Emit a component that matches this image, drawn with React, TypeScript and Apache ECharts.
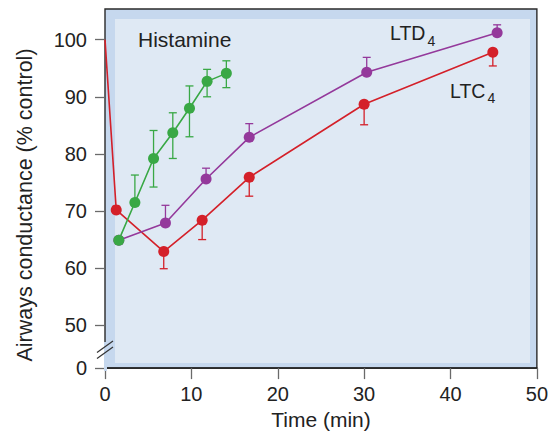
import React, { useEffect, useRef } from 'react';
import * as echarts from 'echarts';

// LTC4 (red): first point is the baseline at t=0 (no marker)
const ltc4X = [0, 1.3, 6.8, 11.25, 16.7, 30.0, 44.9];
const ltc4Y = [100, 70.2, 62.9, 68.4, 75.9, 88.7, 97.8];
const ltc4Low: (number | null)[] = [null, null, 59.9, 65.0, 72.6, 85.1, 95.4];
const ltc4High: (number | null)[] = [null, null, null, null, null, null, null];

// LTD4 (purple)
const ltd4X = [1.6, 7.0, 11.7, 16.7, 30.3, 45.4];
const ltd4Y = [64.9, 67.9, 75.6, 82.9, 94.3, 101.2];
const ltd4Low: (number | null)[] = [null, null, null, null, null, null];
const ltd4High: (number | null)[] = [null, 71.0, 77.5, 85.3, 96.9, 102.6];

// Histamine (green)
const histX = [1.6, 3.46, 5.62, 7.85, 9.78, 11.82, 14.05];
const histY = [64.9, 71.5, 79.2, 83.7, 88.0, 92.7, 94.1];
const histLow: (number | null)[] = [null, null, 74.2, 79.2, 83.0, 90.0, 91.6];
const histHigh: (number | null)[] = [null, 76.3, 84.1, 87.2, 91.9, 94.8, 96.3];

const xMin = 0;
const xMax = 50;
const xInterval = 10;
// broken axis: the "0" label sits at the bottom of the scale
const yTickValues = [42.5, 50, 60, 70, 80, 90, 100];
const yTickLabels = ['0', '50', '60', '70', '80', '90', '100'];
const yMin = 42.5;
const yMax = 105.37;

const RED = '#d42029';
const PURPLE = '#94399b';
const GREEN = '#39a845';
const FONT = '"Liberation Sans", Arial, Helvetica, sans-serif';

function lineSeries(name: string, xs: number[], ys: number[], color: string, hideFirst = false) {
  return {
    name,
    type: 'line',
    data: xs.map((x, i) =>
      hideFirst && i === 0 ? { value: [x, ys[i]], symbolSize: 0 } : [x, ys[i]]
    ),
    symbol: 'circle',
    symbolSize: 11,
    itemStyle: { color },
    lineStyle: { color, width: 1.6 },
    z: 3,
  };
}

function errSeries(xs: number[], ys: number[], lows: (number | null)[], highs: (number | null)[], color: string) {
  const data = xs.map((x, i) => [x, ys[i], lows[i] ?? ys[i], highs[i] ?? ys[i]]);
  return {
    type: 'custom',
    encode: { x: 0, y: [1, 2, 3] },
    data,
    z: 2,
    renderItem: (params: any, api: any) => {
      const x = api.value(0);
      const y = api.value(1);
      const lo = api.value(2);
      const hi = api.value(3);
      if (lo === y && hi === y) return null;
      const pLo = api.coord([x, lo]);
      const pHi = api.coord([x, hi]);
      const style = { stroke: color, lineWidth: 1.3 };
      const cap = 4;
      const children: any[] = [
        { type: 'line', shape: { x1: pLo[0], y1: pLo[1], x2: pHi[0], y2: pHi[1] }, style },
      ];
      if (lo !== y) children.push({ type: 'line', shape: { x1: pLo[0] - cap, y1: pLo[1], x2: pLo[0] + cap, y2: pLo[1] }, style });
      if (hi !== y) children.push({ type: 'line', shape: { x1: pHi[0] - cap, y1: pHi[1], x2: pHi[0] + cap, y2: pHi[1] }, style });
      return { type: 'group', children };
    },
  };
}

export default function App() {
  const ref = useRef<HTMLDivElement>(null);
  useEffect(() => {
    document.body.style.margin = '0';
    const chart = echarts.init(ref.current!, null, { renderer: 'svg' });
    chart.setOption({
      animation: false,
      textStyle: { fontFamily: FONT },
      grid: {
        left: 105,
        right: 12.5,
        top: 9,
        bottom: 63,
        show: true,
        backgroundColor: '#c6d8ee',
        borderColor: '#2a2a2a',
        borderWidth: 1.4,
      },
      xAxis: {
        type: 'value',
        min: xMin,
        max: xMax,
        interval: xInterval,
        axisLine: { show: true, lineStyle: { color: '#1a1a1a', width: 1.5 } },
        axisTick: { show: true, length: 11, lineStyle: { color: '#6a6a6a', width: 1.3 } },
        axisLabel: { margin: 16, fontSize: 20, color: '#222', fontFamily: FONT },
        splitLine: { show: false },
        name: 'Time (min)',
        nameLocation: 'middle',
        nameGap: 32,
        nameTextStyle: { fontSize: 21, color: '#222', fontFamily: FONT },
      },
      yAxis: {
        type: 'value',
        min: yMin,
        max: yMax,
        axisLine: { show: false },
        axisTick: { show: true, length: 10, customValues: yTickValues, lineStyle: { color: '#6a6a6a', width: 1.3 } },
        axisLabel: {
          customValues: yTickValues,
          margin: 18,
          fontSize: 20,
          color: '#222',
          fontFamily: FONT,
          formatter: (v: number) => {
            const i = yTickValues.indexOf(v);
            return i >= 0 ? yTickLabels[i] : '';
          },
        },
        splitLine: { show: false },
      },
      graphic: [
        { type: 'rect', shape: { x: 115, y: 19, width: 415, height: 344 }, style: { fill: '#dfe9f4' }, z: 1, silent: true },
        { type: 'rect', shape: { x: 104, y: 342, width: 3, height: 29 }, style: { fill: '#c6d8ee' }, z: 10, silent: true },
        { type: 'line', shape: { x1: 97, y1: 352.5, x2: 113, y2: 341 }, style: { stroke: '#333', lineWidth: 1.2 }, z: 11 },
        { type: 'line', shape: { x1: 97, y1: 358.5, x2: 113, y2: 347 }, style: { stroke: '#333', lineWidth: 1.2 }, z: 11 },
        {
          type: 'text', x: 25, y: 205, rotation: Math.PI / 2, z: 11,
          style: { text: 'Airways conductance (% control)', fontSize: 21.5, fill: '#222', fontFamily: FONT, align: 'center', verticalAlign: 'middle' },
        },
        { type: 'text', x: 138, y: 39.5, z: 11, style: { text: 'Histamine', fontSize: 21, fill: '#222', fontFamily: FONT, align: 'left', verticalAlign: 'middle' } },
        { type: 'text', x: 390, y: 33, z: 11, style: { text: 'LTD', fontSize: 19.5, fill: '#222', fontFamily: FONT, align: 'left', verticalAlign: 'middle' } },
        { type: 'text', x: 427.5, y: 41, z: 11, style: { text: '4', fontSize: 14, fill: '#222', fontFamily: FONT, align: 'left', verticalAlign: 'middle' } },
        { type: 'text', x: 450, y: 90.8, z: 11, style: { text: 'LTC', fontSize: 19.5, fill: '#222', fontFamily: FONT, align: 'left', verticalAlign: 'middle' } },
        { type: 'text', x: 487.5, y: 98, z: 11, style: { text: '4', fontSize: 14, fill: '#222', fontFamily: FONT, align: 'left', verticalAlign: 'middle' } },
      ],
      series: [
        errSeries(ltc4X, ltc4Y, ltc4Low, ltc4High, RED),
        errSeries(ltd4X, ltd4Y, ltd4Low, ltd4High, PURPLE),
        errSeries(histX, histY, histLow, histHigh, GREEN),
        lineSeries('LTC4', ltc4X, ltc4Y, RED, true),
        lineSeries('LTD4', ltd4X, ltd4Y, PURPLE),
        lineSeries('Histamine', histX, histY, GREEN),
      ],
    });
    return () => chart.dispose();
  }, []);
  return <div ref={ref} style={{ position: 'absolute', left: 0, top: 0, width: 551, height: 435 }} />;
}
